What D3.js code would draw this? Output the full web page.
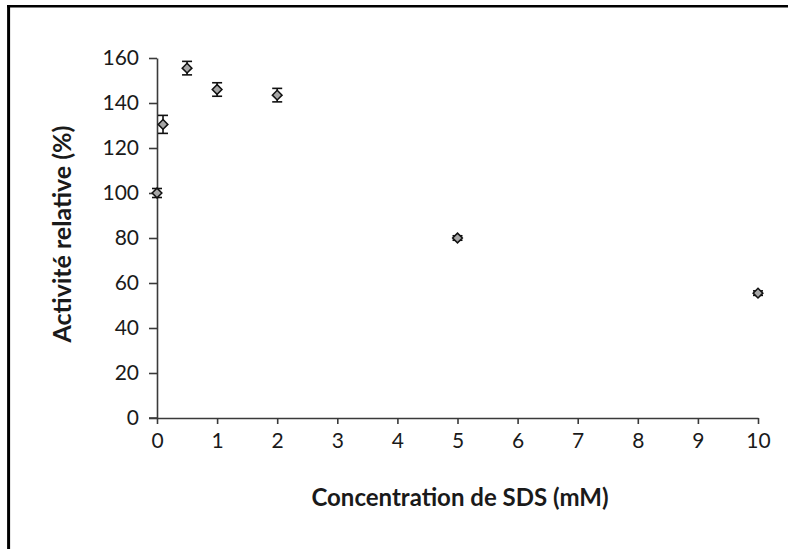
<!DOCTYPE html>
<html><head><meta charset="utf-8">
<script src="https://cdn.jsdelivr.net/npm/d3@7/dist/d3.min.js"></script>
<style>body{margin:0;background:#fff}svg{display:block}</style>
</head><body>
<script>
const concentrations = [0, 0.1, 0.5, 1, 2, 5, 10];
const activity = [100, 130.5, 155.5, 146, 143.5, 80, 55.5];
const errors = [2, 4, 3, 3, 3, 1, 1];
const xTicks = [0,1,2,3,4,5,6,7,8,9,10];
const yTicks = [0,20,40,60,80,100,120,140,160];
const xTitle = "Concentration de SDS (mM)";
const yTitle = "Activité relative (%)";

const W = 788, H = 549;
const svg = d3.select("body").append("svg").attr("width", W).attr("height", H);
const font = "Lato, 'Open Sans', sans-serif";

// frame (top and left visible)
svg.append("line").attr("x1", 7).attr("x2", W).attr("y1", 6.2).attr("y2", 6.2).attr("stroke", "#000").attr("stroke-width", 2.6);
svg.append("line").attr("x1", 8.6).attr("x2", 8.6).attr("y1", 5).attr("y2", H).attr("stroke", "#000").attr("stroke-width", 3);

const x = d3.scaleLinear().domain([0, 10]).range([157, 758]);
const y = d3.scaleLinear().domain([0, 160]).range([418, 58]);

const gx = svg.append("g").attr("transform", `translate(0,${y(0)})`)
  .call(d3.axisBottom(x).tickValues(xTicks).tickSize(6).tickPadding(9).tickSizeOuter(0));
const gy = svg.append("g").attr("transform", `translate(${x(0)},0)`)
  .call(d3.axisLeft(y).tickValues(yTicks).tickSize(8).tickPadding(10).tickSizeOuter(0));
[gx, gy].forEach(g => {
  g.select(".domain").attr("stroke", "#3a3a3a").attr("stroke-width", 1.6);
  g.selectAll(".tick line").attr("stroke", "#3a3a3a").attr("stroke-width", 1.6);
  g.selectAll(".tick text").attr("font-family", font).attr("font-size", 21).attr("fill", "#1a1a1a");
});
svg.append("line").attr("x1", x(0) - 8).attr("x2", x(0)).attr("y1", y(0)).attr("y2", y(0)).attr("stroke", "#3a3a3a").attr("stroke-width", 1.6);

const data = concentrations.map((c, i) => ({c, v: activity[i], e: errors[i]}));
const eb = svg.append("g").attr("stroke", "#111").attr("stroke-width", 1.6);
data.forEach(d => {
  eb.append("line").attr("x1", x(d.c)).attr("x2", x(d.c)).attr("y1", y(d.v + d.e)).attr("y2", y(d.v - d.e));
  [d.v + d.e, d.v - d.e].forEach(t => eb.append("line").attr("x1", x(d.c) - 5).attr("x2", x(d.c) + 5).attr("y1", y(t)).attr("y2", y(t)));
});
svg.append("g").selectAll("path").data(data).join("path")
  .attr("transform", d => `translate(${x(d.c)},${y(d.v)})`)
  .attr("d", d3.symbol(d3.symbolDiamond2, 60)())
  .attr("fill", "#a6a6a6").attr("stroke", "#111").attr("stroke-width", 1.5);

svg.append("text").attr("x", 460).attr("y", 506).attr("text-anchor", "middle")
  .attr("font-family", font).attr("font-weight", "bold").attr("font-size", 24).attr("fill", "#1a1a1a").text(xTitle);
svg.append("text").attr("transform", "translate(71,234) rotate(-90)").attr("text-anchor", "middle")
  .attr("font-family", font).attr("font-weight", "bold").attr("font-size", 25).attr("fill", "#1a1a1a").text(yTitle);
</script>
</body></html>
